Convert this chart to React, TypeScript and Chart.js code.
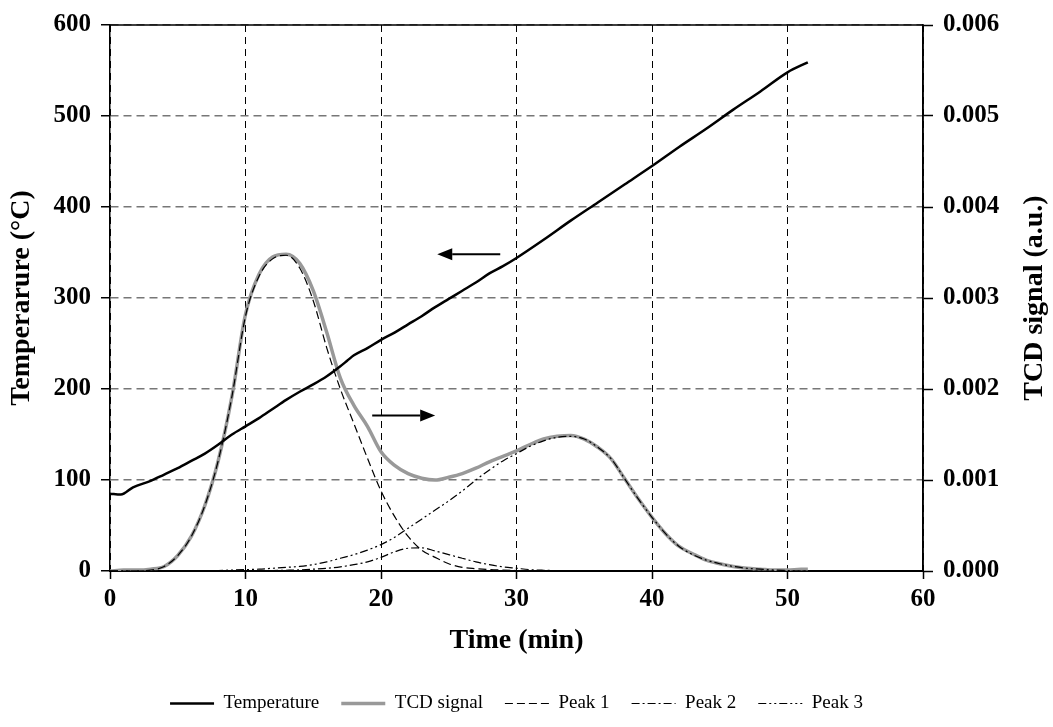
import React, { useEffect, useRef } from "react";
import { Chart, registerables } from "chart.js";

Chart.register(...registerables);

// ---- Data ----
const tempTime = [0, 0.8, 1.7, 3, 4, 5, 6, 7, 8, 9, 10, 11, 12, 13, 14, 15, 16, 17, 17.5, 18, 19, 20, 21, 22, 23, 24, 25, 26, 27, 28, 29, 30, 32, 34, 36, 38, 40, 42, 44, 46, 48, 50, 51.5];
const tempValue = [85, 84, 92, 99, 106, 113, 121, 129, 139, 150, 159, 168, 178, 188, 197, 205, 214, 225, 231, 237, 245, 254, 262, 271, 280, 290, 299, 308, 317, 327, 335, 344, 364, 385, 405, 425, 445, 466, 486, 507, 527, 548, 559];

const tcdTime = [0, 1, 2, 3, 4, 5, 6, 7, 8, 9, 10, 11, 12, 13, 14, 15, 16, 17, 18, 19, 20, 21, 22, 23, 24, 25, 26, 27, 28, 29, 30, 31, 32, 33, 34, 35, 36, 37, 38, 39, 40, 41, 42, 43, 44, 45, 46, 47, 48, 49, 50, 51, 51.5];
const tcdSignal = [0, 0.00001, 0.00001, 0.00002, 0.00005, 0.00017, 0.00038, 0.00072, 0.00122, 0.00192, 0.00282, 0.00326, 0.00345, 0.00348, 0.00338, 0.00308, 0.00262, 0.00212, 0.00182, 0.00159, 0.00131, 0.00116, 0.00107, 0.00102, 0.001, 0.00103, 0.00107, 0.00113, 0.0012, 0.00126, 0.00132, 0.00139, 0.00145, 0.00148, 0.00149, 0.00145, 0.00136, 0.00123, 0.00101, 0.00079, 0.00059, 0.00041, 0.00027, 0.00019, 0.00012, 0.00008, 0.00005, 0.00003, 0.00002, 0.00001, 0.00001, 0.00002, 0.00002];
const peak1 = [0, 0, 0, 0.00001, 0.00005, 0.00017, 0.00038, 0.00072, 0.00122, 0.00192, 0.0028, 0.00324, 0.00343, 0.00347, 0.00333, 0.00297, 0.00245, 0.002, 0.00162, 0.00124, 0.00088, 0.0006, 0.00038, 0.00023, 0.00015, 0.00008, 0.00004, 0.000025, 0.000015, 0.00001, 0.000005, 0, 0, 0, 0, 0, 0, 0, 0, 0, 0, 0, 0, 0, 0, 0, 0, 0, 0, 0, 0, 0, 0];
const peak2 = [0, 0, 0, 0, 0, 0, 0, 0, 0, 0, 0, 0, 0.000005, 0.000008, 0.000012, 0.00002, 0.00003, 0.000045, 0.00007, 0.0001, 0.00015, 0.00021, 0.00025, 0.000255, 0.00022, 0.00018, 0.00014, 0.0001, 0.00007, 0.000045, 0.00003, 0.000015, 0.000008, 0.000004, 0.000002, 0, 0, 0, 0, 0, 0, 0, 0, 0, 0, 0, 0, 0, 0, 0, 0, 0, 0];
const peak3 = [0, 0, 0, 0, 0, 0, 0, 0, 0.000005, 0.00001, 0.000015, 0.00002, 0.00003, 0.00004, 0.00005, 0.00007, 0.0001, 0.00014, 0.00018, 0.00023, 0.00029, 0.00037, 0.00047, 0.00057, 0.00067, 0.00077, 0.00088, 0.001, 0.00111, 0.00121, 0.00129, 0.00137, 0.00143, 0.00147, 0.00148, 0.00145, 0.00136, 0.00123, 0.00101, 0.00079, 0.00059, 0.00041, 0.00027, 0.00018, 0.00012, 0.00008, 0.00005, 0.00003, 0.00002, 0.00001, 0.000005, 0, 0];

const seriesLabels = ["Temperature", "TCD signal", "Peak 1", "Peak 2", "Peak 3"];

const xRange = [0, 60];
const leftRange = [0, 600];
const rightRange = [0, 0.006];

// arrows: [left arrow (temperature axis), right arrow (TCD axis)], in temperature-axis units
const arrowY = [348, 171];
const arrowFrom = [28.8, 19.35];
const arrowTo = [24.15, 24.0];

const axisTitles = ["Time (min)", "Temperarure (°C)", "TCD signal (a.u.)"];

const SERIF = '"Liberation Serif", "Times New Roman", Times, serif';

const overlayPlugin = {
  id: "overlay",
  afterDraw(chart: any) {
    const { ctx, chartArea: a } = chart;
    const xs = chart.scales.x;
    const ys = chart.scales.y;
    ctx.save();
    // frame (top and right)
    ctx.strokeStyle = "#000";
    ctx.lineWidth = 1.5;
    ctx.setLineDash([]);
    ctx.beginPath();
    ctx.moveTo(a.left, a.top);
    ctx.lineTo(a.right, a.top);
    ctx.lineTo(a.right, a.bottom);
    ctx.stroke();

    // arrows
    for (let i = 0; i < arrowY.length; i++) {
      const x1 = xs.getPixelForValue(arrowFrom[i]);
      const x2 = xs.getPixelForValue(arrowTo[i]);
      const y = ys.getPixelForValue(arrowY[i]);
      const dir = x2 > x1 ? 1 : -1;
      const head = 15;
      ctx.lineWidth = 2;
      ctx.beginPath();
      ctx.moveTo(x1, y);
      ctx.lineTo(x2 - dir * head, y);
      ctx.stroke();
      ctx.fillStyle = "#000";
      ctx.beginPath();
      ctx.moveTo(x2, y);
      ctx.lineTo(x2 - dir * head, y - 6);
      ctx.lineTo(x2 - dir * head, y + 6);
      ctx.closePath();
      ctx.fill();
    }

    // axis titles
    ctx.fillStyle = "#000";
    ctx.font = `bold 28px ${SERIF}`;
    ctx.textAlign = "center";
    ctx.textBaseline = "middle";
    ctx.fillText(axisTitles[0], (a.left + a.right) / 2, a.bottom + 70);
    const cy = (a.top + a.bottom) / 2;
    ctx.save();
    ctx.translate(22, cy);
    ctx.rotate(-Math.PI / 2);
    ctx.fillText(axisTitles[1], 0, 0);
    ctx.restore();
    ctx.save();
    ctx.translate(1035, cy);
    ctx.rotate(-Math.PI / 2);
    ctx.fillText(axisTitles[2], 0, 0);
    ctx.restore();
    ctx.restore();
  },
};

export default function App() {
  const ref = useRef<HTMLCanvasElement | null>(null);

  useEffect(() => {
    if (!ref.current) return;
    const toXY = (xs: number[], ys: number[]) => xs.map((x, i) => ({ x, y: ys[i] }));
    const common = { pointRadius: 0, fill: false, cubicInterpolationMode: "monotone" as const };
    const tickFont = { family: SERIF, size: 25, weight: "bold" as const };
    const chart = new Chart(ref.current, {
      type: "line",
      data: {
        datasets: [
          {
            ...common,
            label: seriesLabels[0],
            data: toXY(tempTime, tempValue),
            borderColor: "#000",
            borderWidth: 2.5,
            yAxisID: "y",
            order: 1,
          },
          {
            ...common,
            label: seriesLabels[1],
            data: toXY(tcdTime, tcdSignal),
            borderColor: "#999999",
            borderWidth: 3.5,
            yAxisID: "y1",
            order: 5,
          },
          {
            ...common,
            label: seriesLabels[2],
            data: toXY(tcdTime, peak1),
            borderColor: "#000",
            borderWidth: 1.2,
            borderDash: [8, 4],
            yAxisID: "y1",
            order: 2,
          },
          {
            ...common,
            label: seriesLabels[3],
            data: toXY(tcdTime, peak2),
            borderColor: "#000",
            borderWidth: 1.2,
            borderDash: [8, 3, 2, 3],
            yAxisID: "y1",
            order: 3,
          },
          {
            ...common,
            label: seriesLabels[4],
            data: toXY(tcdTime, peak3),
            borderColor: "#000",
            borderWidth: 1.2,
            borderDash: [8, 3, 2, 3, 2, 3],
            yAxisID: "y1",
            order: 4,
          },
        ],
      },
      options: {
        responsive: false,
        animation: false,
        events: [],
        layout: { padding: { top: 23, left: 0, right: 0, bottom: 4 } },
        plugins: {
          tooltip: { enabled: false },
          legend: {
            position: "bottom",
            fullSize: false,
            labels: {
              usePointStyle: true,
              pointStyle: "line",
              pointStyleWidth: 44,
              padding: 22,
              color: "#000",
              font: { family: SERIF, size: 19 },
              sort: (a: any, b: any) => a.datasetIndex - b.datasetIndex,
              generateLabels: (c: any) => {
                const items = (Chart as any).defaults.plugins.legend.labels.generateLabels(c);
                items.forEach((it: any) => {
                  const ds: any = c.data.datasets[it.datasetIndex];
                  it.lineDash = ds.borderDash || [];
                  it.lineWidth = ds.borderWidth;
                  it.strokeStyle = ds.borderColor;
                });
                return items;
              },
            },
          },
        },
        scales: {
          x: {
            type: "linear",
            position: "bottom",
            min: xRange[0],
            max: xRange[1],
            afterFit: (s: any) => {
              s.height = 101;
            },
            ticks: {
              stepSize: 10,
              color: "#000",
              padding: 6,
              maxRotation: 0,
              autoSkip: false,
              font: tickFont,
            },
            grid: {
              color: "#000",
              lineWidth: 1,
              tickColor: "#000",
              tickLength: 8,
              tickWidth: 1.5,
            },
            border: { display: true, color: "#000", width: 2, dash: [7, 5] },
          },
          y: {
            type: "linear",
            position: "left",
            min: leftRange[0],
            max: leftRange[1],
            afterFit: (s: any) => {
              s.width = 110;
            },
            ticks: {
              stepSize: 100,
              color: "#000",
              padding: 10,
              font: tickFont,
            },
            grid: {
              color: "#777777",
              lineWidth: 1.5,
              tickColor: "#000",
              tickLength: 9,
              tickWidth: 1.5,
            },
            border: { display: true, color: "#000", width: 1.5, dash: [8, 5] },
          },
          y1: {
            type: "linear",
            position: "right",
            min: rightRange[0],
            max: rightRange[1],
            afterFit: (s: any) => {
              s.width = 130;
            },
            ticks: {
              stepSize: 0.001,
              color: "#000",
              padding: 10,
              font: tickFont,
              callback: (v: any) => Number(v).toFixed(3),
            },
            grid: {
              drawOnChartArea: false,
              tickColor: "#000",
              tickLength: 10,
              tickWidth: 1.5,
            },
            border: { display: true, color: "#000", width: 1.5 },
          },
        },
      },
      plugins: [overlayPlugin],
    });
    return () => chart.destroy();
  }, []);

  return (
    <div style={{ position: "fixed", left: 0, top: 0, width: 1053, height: 727, background: "#fff" }}>
      <canvas ref={ref} width={1053} height={727} style={{ display: "block" }} />
    </div>
  );
}
